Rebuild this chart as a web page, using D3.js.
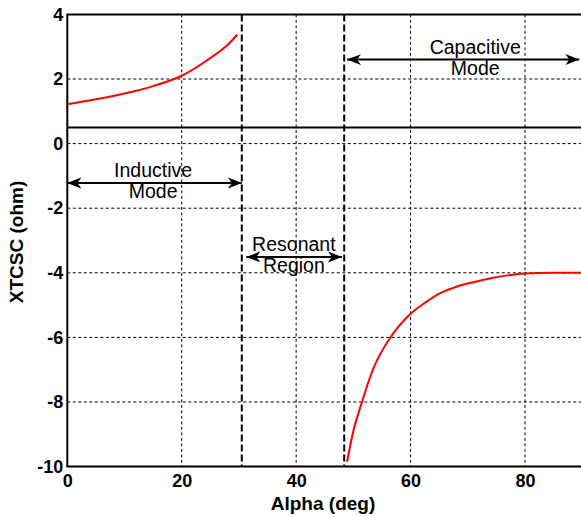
<!doctype html>
<html>
    <head>
        <meta charset="utf-8">
        <title>XTCSC vs Alpha</title>
        <script src="https://d3js.org/d3.v7.min.js"></script>
        <style>
          body { margin: 0; background: #fff; }
          text { font-family: "Liberation Sans", Arial, sans-serif; }
        </style>
    </head>
    <body>
        <svg id="chart" width="581" height="517"></svg>
        <script>
          // inductive branch (alpha < resonance)
          var indAlpha = [0, 5, 10, 15, 20, 25, 28, 29.7];
          var indX     = [1.22, 1.37, 1.55, 1.78, 2.1, 2.65, 3.05, 3.37];

          // capacitive branch (alpha > resonance)
          var capAlpha = [48.9, 50, 51.5, 53.5, 56.5, 60, 62.5, 65.2, 68, 71, 74, 76.9, 80, 85, 90];
          var capX     = [-9.85, -8.9, -8.0, -6.96, -6.0, -5.27, -4.93, -4.63, -4.43, -4.29, -4.17, -4.08, -4.02, -4.0, -4.0];

          var xTicks = [0, 20, 40, 60, 80];
          var yTicks = [-10, -8, -6, -4, -2, 0, 2, 4];

          // region boundaries and reference level
          var boundaries = [30.5, 48.4];
          var refLevel = 0.5;

          // annotation arrows: from, to, level, text lines
          var notes = [
            { from: 0,    to: 30.5, at: -1.22, lines: ['Inductive', 'Mode'] },
            { from: 31.3, to: 48.0, at: -3.51, lines: ['Resonant', 'Region'] },
            { from: 48.9, to: 89.5, at: 2.6,   lines: ['Capacitive', 'Mode'] }
          ];
          var noteCenter = [15, 39.6, 71.3];

          var svg = d3.select('#chart');

          var xScale = d3.scaleLinear()
            .domain([0, 90])
            .range([67.3, 582.2]);

          var yScale = d3.scaleLinear()
            .domain([-10, 4])
            .range([466.6, 14.4]);

          var pLeft = xScale(0), pRight = xScale(90), pTop = yScale(4), pBottom = yScale(-10);

          // grid
          svg.selectAll('line.vgrid')
            .data(xTicks.slice(1))
            .enter()
            .append('line')
              .attr('class', 'vgrid')
              .attr('x1', d => xScale(d)).attr('x2', d => xScale(d))
              .attr('y1', pTop).attr('y2', pBottom)
              .style('stroke', '#000')
              .style('stroke-width', '1px')
              .style('stroke-dasharray', '3,2.5');

          svg.selectAll('line.hgrid')
            .data(yTicks.slice(1, -1))
            .enter()
            .append('line')
              .attr('class', 'hgrid')
              .attr('x1', pLeft).attr('x2', pRight)
              .attr('y1', d => yScale(d)).attr('y2', d => yScale(d))
              .style('stroke', '#000')
              .style('stroke-width', '1px')
              .style('stroke-dasharray', '3,2.5');

          // axes (labels only, grid covers ticks)
          var xAxis = svg.append('g')
            .attr('transform', 'translate(0,' + pBottom + ')')
            .call(d3.axisBottom(xScale).tickValues(xTicks).tickSize(0).tickPadding(8).tickFormat(d => '' + d));

          var yAxis = svg.append('g')
            .attr('transform', 'translate(' + pLeft + ',0)')
            .call(d3.axisLeft(yScale).tickValues(yTicks).tickSize(0).tickPadding(4).tickFormat(d => '' + d));

          [xAxis, yAxis].forEach(function(g) {
            g.select('.domain').remove();
            g.selectAll('line').remove();
            g.selectAll('text')
              .style('font-family', '"Liberation Sans", Arial, sans-serif')
              .style('font-size', '18px')
              .style('font-weight', 'bold')
              .style('fill', '#000');
          });

          // reference line
          svg.append('line')
            .attr('x1', pLeft).attr('x2', pRight)
            .attr('y1', yScale(refLevel)).attr('y2', yScale(refLevel))
            .style('stroke', '#000')
            .style('stroke-width', '2px');

          // boundaries
          svg.selectAll('line.boundary')
            .data(boundaries)
            .enter()
            .append('line')
              .attr('class', 'boundary')
              .attr('x1', d => xScale(d)).attr('x2', d => xScale(d))
              .attr('y1', pTop).attr('y2', pBottom)
              .style('stroke', '#000')
              .style('stroke-width', '2px')
              .style('stroke-dasharray', '7,3');

          // curves
          var line = d3.line()
            .x(d => xScale(d[0]))
            .y(d => yScale(d[1]))
            .curve(d3.curveMonotoneX);

          [d3.zip(indAlpha, indX), d3.zip(capAlpha, capX)].forEach(function(pts) {
            svg.append('path')
              .datum(pts)
              .attr('d', line)
              .style('fill', 'none')
              .style('stroke', '#ff0000')
              .style('stroke-width', '2px');
          });

          // arrow head
          svg.append('defs').append('marker')
            .attr('id', 'head')
            .attr('viewBox', '0 -6 14 12')
            .attr('refX', 14).attr('refY', 0)
            .attr('markerWidth', 14).attr('markerHeight', 12)
            .attr('markerUnits', 'userSpaceOnUse')
            .attr('orient', 'auto-start-reverse')
            .append('path')
              .attr('d', 'M0,-5.5L14,0L0,5.5L4,0Z')
              .style('fill', '#000');

          svg.selectAll('line.note')
            .data(notes)
            .enter()
            .append('line')
              .attr('class', 'note')
              .attr('x1', d => xScale(d.from)).attr('x2', d => xScale(d.to))
              .attr('y1', d => yScale(d.at)).attr('y2', d => yScale(d.at))
              .attr('marker-start', 'url(#head)')
              .attr('marker-end', 'url(#head)')
              .style('stroke', '#000')
              .style('stroke-width', '2px');

          svg.selectAll('g.noteText')
            .data(notes)
            .enter()
            .append('g')
              .attr('class', 'noteText')
              .each(function(d, i) {
                var g = d3.select(this);
                var cx = xScale(noteCenter[i]), cy = yScale(d.at);
                g.append('text')
                  .attr('x', cx).attr('y', cy - 6)
                  .attr('text-anchor', 'middle')
                  .style('font-size', '19.5px')
                  .text(d.lines[0]);
                g.append('text')
                  .attr('x', cx).attr('y', cy + 15)
                  .attr('text-anchor', 'middle')
                  .style('font-size', '19.5px')
                  .text(d.lines[1]);
              });

          // frame
          svg.append('path')
            .attr('d', 'M' + pRight + ',' + pTop + 'H' + pLeft + 'V' + pBottom + 'H' + pRight)
            .style('fill', 'none')
            .style('stroke', '#000')
            .style('stroke-width', '2px');

          // axis titles
          svg.append('text')
            .attr('x', 323).attr('y', 510)
            .attr('text-anchor', 'middle')
            .style('font-size', '19px')
            .style('font-weight', 'bold')
            .text('Alpha (deg)');

          svg.append('text')
            .attr('transform', 'translate(23,242) rotate(-90)')
            .attr('text-anchor', 'middle')
            .style('font-size', '19px')
            .style('font-weight', 'bold')
            .text('XTCSC (ohm)');
        </script>
      </body>
</html>
